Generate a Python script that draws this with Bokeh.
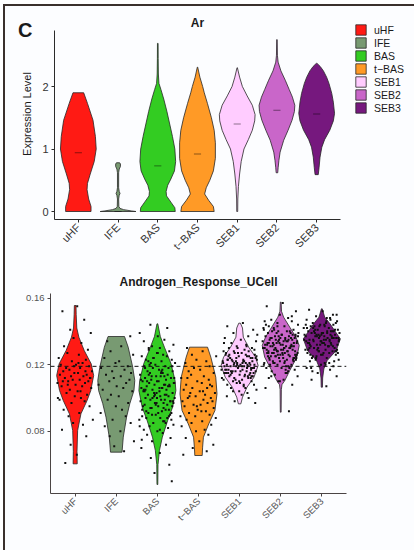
import math
from bokeh.plotting import figure
from bokeh.models import Range1d, FixedTicker, Span, Legend, LegendItem, Div, Label
from bokeh.layouts import column
from bokeh.embed import file_html
from bokeh.resources import INLINE

FONT = "Liberation Sans"
CATS = ["uHF", "IFE", "BAS", "t\u2212BAS", "SEB1", "SEB2", "SEB3"]
COLORS = ["#ff1a14", "#789a72", "#33cc22", "#ff9a26", "#ffccff", "#c966c9", "#76187e"]

# ---- Ar expression violin profiles (level, half-width) ----
AR_UHF_Y = [0.0, 0.08, 0.2, 0.35, 0.45, 0.6, 0.8, 1.0, 1.2, 1.46, 1.73, 1.9]
AR_UHF_W = [0.32, 0.32, 0.26, 0.22, 0.23, 0.30, 0.40, 0.45, 0.43, 0.37, 0.23, 0.135]
AR_IFE_Y = [0.0, 0.01, 0.03, 0.05, 0.08, 0.2, 0.26, 0.29, 0.32, 0.38, 0.62, 0.68, 0.72, 0.76, 0.78]
AR_IFE_W = [0.45, 0.33, 0.14, 0.05, 0.02, 0.015, 0.03, 0.05, 0.03, 0.015, 0.015, 0.03, 0.06, 0.06, 0.04]
AR_BAS_Y = [0.0, 0.06, 0.15, 0.25, 0.32, 0.42, 0.52, 0.65, 0.8, 1.0, 1.2, 1.4, 1.6, 1.8, 1.95, 2.05, 2.2, 2.45, 2.69]
AR_BAS_W = [0.44, 0.43, 0.33, 0.22, 0.21, 0.25, 0.33, 0.42, 0.45, 0.43, 0.37, 0.30, 0.23, 0.15, 0.08, 0.03, 0.015, 0.01, 0.008]
AR_TBAS_Y = [0.0, 0.08, 0.18, 0.28, 0.38, 0.5, 0.65, 0.85, 1.1, 1.3, 1.5, 1.73, 1.9, 2.0, 2.15, 2.31]
AR_TBAS_W = [0.42, 0.40, 0.28, 0.18, 0.22, 0.31, 0.40, 0.45, 0.45, 0.42, 0.35, 0.25, 0.17, 0.13, 0.06, 0.005]
AR_SEB1_Y = [0.0, 0.2, 0.4, 0.6, 0.8, 1.0, 1.15, 1.3, 1.45, 1.55, 1.7, 1.85, 2.0, 2.15, 2.3]
AR_SEB1_W = [0.012, 0.015, 0.03, 0.06, 0.10, 0.17, 0.28, 0.38, 0.44, 0.45, 0.38, 0.25, 0.13, 0.06, 0.005]
AR_SEB2_Y = [0.62, 0.7, 0.82, 0.95, 1.14, 1.3, 1.46, 1.6, 1.7, 1.83, 1.95, 2.1, 2.25, 2.39, 2.5, 2.75]
AR_SEB2_W = [0.02, 0.03, 0.05, 0.08, 0.17, 0.28, 0.38, 0.44, 0.45, 0.39, 0.31, 0.21, 0.10, 0.03, 0.012, 0.006]
AR_SEB3_Y = [0.59, 0.7, 0.87, 1.03, 1.15, 1.3, 1.45, 1.57, 1.75, 1.89, 2.05, 2.15, 2.25, 2.32, 2.37]
AR_SEB3_W = [0.04, 0.06, 0.085, 0.13, 0.2, 0.33, 0.42, 0.45, 0.42, 0.38, 0.31, 0.25, 0.17, 0.09, 0.01]
AR_MEDIAN = [0.94, 0.0, 0.73, 0.92, 1.40, 1.62, 1.56]
AR_AXIS_Y = (-0.128, 2.896)

# ---- Androgen_Response_UCell violin profiles ----
UC_UHF_Y = [0.0605, 0.068, 0.0805, 0.0905, 0.0985, 0.1045, 0.1135, 0.1205, 0.1285, 0.1365, 0.142, 0.15, 0.1555]
UC_UHF_W = [0.05, 0.045, 0.06, 0.14, 0.29, 0.38, 0.45, 0.39, 0.22, 0.09, 0.04, 0.025, 0.02]
UC_IFE_Y = [0.0675, 0.0765, 0.0885, 0.0967, 0.1045, 0.1105, 0.1185, 0.1305, 0.1369]
UC_IFE_W = [0.14, 0.17, 0.25, 0.33, 0.43, 0.45, 0.40, 0.29, 0.20]
UC_BAS_Y = [0.0481, 0.06, 0.0685, 0.0765, 0.0865, 0.0945, 0.1045, 0.1105, 0.1207, 0.1305, 0.137, 0.1445]
UC_BAS_W = [0.01, 0.015, 0.05, 0.12, 0.25, 0.37, 0.45, 0.43, 0.33, 0.17, 0.07, 0.01]
UC_TBAS_Y = [0.0655, 0.0705, 0.0765, 0.0845, 0.0925, 0.1025, 0.1125, 0.1245, 0.1305]
UC_TBAS_W = [0.09, 0.10, 0.12, 0.25, 0.40, 0.45, 0.42, 0.30, 0.22]
UC_SEB1_Y = [0.0965, 0.1005, 0.1065, 0.1125, 0.1195, 0.1245, 0.1305, 0.1365, 0.142, 0.1449]
UC_SEB1_W = [0.03, 0.07, 0.18, 0.35, 0.45, 0.39, 0.22, 0.09, 0.07, 0.02]
UC_SEB2_Y = [0.0915, 0.105, 0.108, 0.1105, 0.1165, 0.1245, 0.1315, 0.1365, 0.1425, 0.1485, 0.152, 0.1575]
UC_SEB2_W = [0.01, 0.015, 0.03, 0.10, 0.22, 0.39, 0.45, 0.37, 0.22, 0.07, 0.02, 0.01]
UC_SEB3_Y = [0.1065, 0.112, 0.1175, 0.1225, 0.1285, 0.1355, 0.1405, 0.1445, 0.1485, 0.1535]
UC_SEB3_W = [0.015, 0.02, 0.05, 0.13, 0.35, 0.45, 0.31, 0.20, 0.07, 0.01]
UC_MEAN_LINE = 0.119

# ---- UCell per-cell scores (jittered points) ----
PT_UHF = [0.155, 0.152, 0.147, 0.141, 0.139, 0.136, 0.133, 0.131, 0.129, 0.127, 0.126, 0.124, 0.123, 0.122,
          0.121, 0.120, 0.120, 0.119, 0.118, 0.118, 0.117, 0.116, 0.116, 0.115, 0.115, 0.114, 0.114, 0.113,
          0.113, 0.112, 0.112, 0.111, 0.111, 0.110, 0.110, 0.109, 0.109, 0.108, 0.107, 0.107, 0.106, 0.105,
          0.104, 0.103, 0.102, 0.101, 0.100, 0.099, 0.098, 0.097, 0.095, 0.093, 0.091, 0.089, 0.087, 0.085,
          0.084, 0.081, 0.077, 0.072, 0.066, 0.061, 0.112, 0.108, 0.104, 0.100, 0.116, 0.119, 0.121, 0.110]
PT_IFE = [0.137, 0.134, 0.131, 0.128, 0.126, 0.124, 0.122, 0.121, 0.119, 0.118, 0.117, 0.116, 0.115, 0.114,
          0.113, 0.112, 0.111, 0.110, 0.109, 0.108, 0.107, 0.106, 0.105, 0.104, 0.102, 0.101, 0.099, 0.097,
          0.095, 0.093, 0.091, 0.089, 0.087, 0.085, 0.083, 0.080, 0.077, 0.074, 0.071, 0.068]
PT_BAS = [0.144, 0.142, 0.139, 0.137, 0.135, 0.134, 0.132, 0.131, 0.130, 0.129, 0.128, 0.127, 0.126, 0.125,
          0.125, 0.124, 0.123, 0.123, 0.122, 0.121, 0.121, 0.120, 0.119, 0.119, 0.118, 0.118, 0.117, 0.116,
          0.116, 0.115, 0.115, 0.114, 0.114, 0.113, 0.113, 0.112, 0.112, 0.111, 0.111, 0.110, 0.110, 0.109,
          0.109, 0.108, 0.108, 0.107, 0.107, 0.106, 0.106, 0.105, 0.105, 0.104, 0.104, 0.103, 0.103, 0.102,
          0.102, 0.101, 0.101, 0.100, 0.100, 0.099, 0.099, 0.098, 0.098, 0.097, 0.097, 0.096, 0.096, 0.095,
          0.095, 0.094, 0.093, 0.093, 0.092, 0.091, 0.091, 0.090, 0.089, 0.088, 0.088, 0.087, 0.086, 0.085,
          0.084, 0.083, 0.082, 0.081, 0.080, 0.079, 0.078, 0.076, 0.074, 0.072, 0.070, 0.067, 0.064, 0.060,
          0.055, 0.050,
          0.118, 0.116, 0.114, 0.112, 0.110, 0.108, 0.106, 0.104, 0.102, 0.100, 0.098, 0.096, 0.094, 0.092,
          0.090, 0.120, 0.115, 0.111, 0.107, 0.103, 0.099, 0.095, 0.091, 0.087, 0.122, 0.117, 0.113, 0.109,
          0.105, 0.101, 0.097, 0.093, 0.089, 0.085, 0.124, 0.119, 0.110, 0.106, 0.102, 0.098, 0.094, 0.088,
          0.083, 0.127, 0.113, 0.105, 0.097, 0.090, 0.081, 0.130, 0.108, 0.100, 0.086, 0.075]
PT_TBAS = [0.130, 0.128, 0.126, 0.125, 0.123, 0.122, 0.121, 0.119, 0.118, 0.117, 0.116, 0.115, 0.114, 0.113,
           0.112, 0.111, 0.110, 0.109, 0.108, 0.107, 0.106, 0.106, 0.105, 0.104, 0.103, 0.103, 0.102, 0.101,
           0.100, 0.100, 0.099, 0.098, 0.097, 0.096, 0.096, 0.095, 0.094, 0.093, 0.092, 0.091, 0.090, 0.089,
           0.088, 0.087, 0.086, 0.085, 0.084, 0.083, 0.081, 0.080, 0.078, 0.076, 0.074, 0.072, 0.070, 0.068,
           0.066, 0.104, 0.101, 0.098, 0.095, 0.108, 0.112, 0.092, 0.089]
PT_SEB1 = [0.145, 0.143, 0.141, 0.139, 0.137, 0.136, 0.135, 0.134, 0.133, 0.132, 0.131, 0.130, 0.130, 0.129,
           0.128, 0.128, 0.127, 0.127, 0.126, 0.126, 0.125, 0.125, 0.124, 0.124, 0.124, 0.123, 0.123, 0.123,
           0.122, 0.122, 0.122, 0.121, 0.121, 0.121, 0.120, 0.120, 0.120, 0.120, 0.119, 0.119, 0.119, 0.119,
           0.118, 0.118, 0.118, 0.117, 0.117, 0.117, 0.116, 0.116, 0.116, 0.115, 0.115, 0.115, 0.114, 0.114,
           0.113, 0.113, 0.112, 0.112, 0.111, 0.111, 0.110, 0.110, 0.109, 0.108, 0.108, 0.107, 0.106, 0.105,
           0.104, 0.103, 0.102, 0.101, 0.100, 0.098, 0.097,
           0.127, 0.126, 0.125, 0.124, 0.123, 0.122, 0.121, 0.120, 0.119, 0.118, 0.117, 0.116, 0.115, 0.114,
           0.113, 0.128, 0.125, 0.123, 0.121, 0.119, 0.117, 0.115, 0.113, 0.111, 0.129, 0.126, 0.122, 0.120,
           0.118, 0.116, 0.114, 0.112, 0.109, 0.131, 0.127, 0.124, 0.121, 0.119, 0.116, 0.113, 0.110, 0.106,
           0.133, 0.125, 0.122, 0.118, 0.115, 0.108, 0.104, 0.138, 0.130, 0.120, 0.117, 0.112]
PT_SEB2 = [0.157, 0.155, 0.152, 0.150, 0.148, 0.147, 0.146, 0.145, 0.144, 0.143, 0.143, 0.142, 0.141, 0.141,
           0.140, 0.140, 0.139, 0.139, 0.138, 0.138, 0.137, 0.137, 0.137, 0.136, 0.136, 0.136, 0.135, 0.135,
           0.135, 0.134, 0.134, 0.134, 0.133, 0.133, 0.133, 0.132, 0.132, 0.132, 0.131, 0.131, 0.131, 0.130,
           0.130, 0.130, 0.129, 0.129, 0.129, 0.128, 0.128, 0.128, 0.127, 0.127, 0.127, 0.126, 0.126, 0.126,
           0.125, 0.125, 0.125, 0.124, 0.124, 0.123, 0.123, 0.122, 0.122, 0.121, 0.121, 0.120, 0.120, 0.119,
           0.118, 0.118, 0.117, 0.116, 0.115, 0.114, 0.113, 0.112, 0.111, 0.110, 0.108, 0.106, 0.092,
           0.139, 0.137, 0.136, 0.135, 0.134, 0.133, 0.132, 0.131, 0.130, 0.129, 0.128, 0.127, 0.126, 0.125,
           0.124, 0.140, 0.138, 0.136, 0.134, 0.132, 0.130, 0.128, 0.126, 0.124, 0.122, 0.141, 0.139, 0.137,
           0.135, 0.133, 0.131, 0.129, 0.127, 0.125, 0.123, 0.121, 0.119, 0.142, 0.136, 0.133, 0.130, 0.127,
           0.124, 0.121, 0.118, 0.144, 0.138, 0.134, 0.131, 0.128, 0.126, 0.123, 0.120, 0.117, 0.146, 0.140,
           0.135, 0.132, 0.129, 0.125, 0.122, 0.116, 0.113, 0.149, 0.143, 0.137, 0.133, 0.130, 0.127, 0.124,
           0.120, 0.115, 0.110]
PT_SEB3 = [0.153, 0.152, 0.150, 0.149, 0.148, 0.147, 0.146, 0.145, 0.145, 0.144, 0.144, 0.143, 0.143, 0.142,
           0.142, 0.141, 0.141, 0.140, 0.140, 0.140, 0.139, 0.139, 0.139, 0.138, 0.138, 0.138, 0.137, 0.137,
           0.137, 0.136, 0.136, 0.136, 0.135, 0.135, 0.135, 0.134, 0.134, 0.134, 0.133, 0.133, 0.133, 0.132,
           0.132, 0.132, 0.131, 0.131, 0.130, 0.130, 0.129, 0.129, 0.128, 0.128, 0.127, 0.127, 0.126, 0.126,
           0.125, 0.124, 0.124, 0.123, 0.122, 0.121, 0.120, 0.119, 0.118, 0.117, 0.115, 0.113, 0.111, 0.107,
           0.143, 0.141, 0.139, 0.137, 0.135, 0.133, 0.131, 0.129, 0.127, 0.125, 0.144, 0.142, 0.140, 0.138,
           0.136, 0.134, 0.132, 0.130, 0.128, 0.126, 0.145, 0.141, 0.139, 0.137, 0.135, 0.133, 0.131, 0.129,
           0.127, 0.124, 0.146, 0.143, 0.140, 0.138, 0.136, 0.134, 0.132, 0.130, 0.128, 0.123, 0.147, 0.142,
           0.139, 0.136, 0.134, 0.131, 0.128, 0.122, 0.118, 0.148, 0.144, 0.140, 0.137, 0.135, 0.133, 0.129,
           0.126, 0.121, 0.116, 0.150, 0.138, 0.135, 0.132, 0.120]
# horizontal jitter offsets (category units)
JITTER = [0.05, -0.31, 0.22, -0.12, 0.38, -0.04, 0.15, -0.27, 0.31, -0.19, 0.09, -0.40, 0.26, -0.08, 0.18,
          -0.35, 0.02, 0.34, -0.22, 0.12, -0.14, 0.41, -0.29, 0.07, -0.02, 0.28, -0.37, 0.20, -0.10, 0.36,
          -0.25, 0.11, -0.06, 0.32, -0.17, 0.24, -0.43, 0.01, 0.17, -0.33, 0.39, -0.13, 0.06, -0.21, 0.29,
          -0.01, 0.14, -0.38, 0.23, -0.09, 0.35, -0.28, 0.10, -0.16, 0.43, -0.05, 0.19, -0.32, 0.27, -0.11,
          0.04, -0.24, 0.37, -0.18, 0.13, -0.42, 0.25, -0.03, 0.08, -0.30, 0.33, -0.15, 0.21, -0.36, 0.03,
          0.40, -0.20, 0.16, -0.07, 0.30, -0.26, 0.12, -0.39, 0.22, -0.12, 0.05, -0.34, 0.37, -0.02, 0.18,
          -0.23, 0.27, -0.08, 0.42, -0.29, 0.09, -0.17, 0.31, -0.41, 0.15, -0.06, 0.24, -0.31, 0.02, 0.36,
          -0.14, 0.20, -0.37, 0.11, -0.22, 0.34, -0.04, 0.28, -0.27, 0.07, -0.44, 0.17, -0.10, 0.39, -0.19,
          0.26, -0.33, 0.00, 0.13, -0.25, 0.32, -0.13, 0.21, -0.39, 0.06, -0.16, 0.29, -0.07, 0.35, -0.30,
          0.10, -0.21, 0.41, -0.01, 0.19]

AR_PROFILES = [(AR_UHF_Y, AR_UHF_W), (AR_IFE_Y, AR_IFE_W), (AR_BAS_Y, AR_BAS_W), (AR_TBAS_Y, AR_TBAS_W),
               (AR_SEB1_Y, AR_SEB1_W), (AR_SEB2_Y, AR_SEB2_W), (AR_SEB3_Y, AR_SEB3_W)]
UC_PROFILES = [(UC_UHF_Y, UC_UHF_W), (UC_IFE_Y, UC_IFE_W), (UC_BAS_Y, UC_BAS_W), (UC_TBAS_Y, UC_TBAS_W),
               (UC_SEB1_Y, UC_SEB1_W), (UC_SEB2_Y, UC_SEB2_W), (UC_SEB3_Y, UC_SEB3_W)]
UC_POINTS = [PT_UHF, PT_IFE, PT_BAS, PT_TBAS, PT_SEB1, PT_SEB2, PT_SEB3]

POS = list(range(1, len(CATS) + 1))
OUTLINE = "#262626"
AXIS_COL = "#2a2a2a"
BORDER = "#3a302c"
BG = "#fcfdff"


def violin(p, c, ys, ws, color):
    xs = [c - w for w in ws] + [c + w for w in reversed(ws)]
    yy = list(ys) + list(reversed(ys))
    return p.patch(xs, yy, fill_color=color, line_color=OUTLINE, line_width=0.8)


def style(p, tick_size, tick_color, line_color):
    p.grid.visible = False
    p.outline_line_color = None
    p.background_fill_color = BG
    p.border_fill_color = BG
    p.title.align = "center"
    p.title.text_font = FONT
    p.title.text_font_size = "12px"
    p.title.text_font_style = "bold"
    p.title.text_color = "#1a1a1a"
    for ax in (p.xaxis[0], p.yaxis[0]):
        ax.axis_line_color = line_color
        ax.axis_line_width = 1
        ax.major_tick_line_color = line_color
        ax.major_tick_out = 3
        ax.major_tick_in = 0
        ax.minor_tick_line_color = None
        ax.major_label_text_font = FONT
        ax.major_label_text_font_size = tick_size
        ax.major_label_text_color = tick_color
        ax.major_label_standoff = 3
    p.xaxis.ticker = FixedTicker(ticks=POS)
    p.xaxis.major_label_overrides = {i: c for i, c in zip(POS, CATS)}
    p.xaxis.major_label_orientation = math.pi / 4


# ---------------- top panel ----------------
# frame is widened to the right and upward so the legend and title sit inside it;
# the axes are bounded to the data area.
p1 = figure(width=409, height=256, x_range=Range1d(0.4, 9.463), y_range=Range1d(-0.128, 3.248),
            output_backend="svg", toolbar_location=None, frame_align=False,
            min_border_left=49, min_border_right=0, min_border_top=2, min_border_bottom=43)
style(p1, "11px", "#333333", AXIS_COL)
p1.xaxis.bounds = (0.4, 7.6)
p1.yaxis.bounds = AR_AXIS_Y
p1.yaxis.ticker = FixedTicker(ticks=[0, 1, 2])
p1.yaxis.axis_label = "Expression Level"
p1.yaxis.axis_label_text_font = FONT
p1.yaxis.axis_label_text_font_size = "11px"
p1.yaxis.axis_label_text_font_style = "normal"
p1.yaxis.axis_label_text_color = "#1a1a1a"
p1.yaxis.axis_label_standoff = 6

items = []
for c, (ys, ws), col, name, med in zip(POS, AR_PROFILES, COLORS, CATS, AR_MEDIAN):
    r = violin(p1, c, ys, ws, col)
    p1.segment(x0=[c - 0.09], x1=[c + 0.09], y0=[med], y1=[med], line_color="black", line_alpha=0.45, line_width=1)
    items.append(LegendItem(label=name, renderers=[r]))

leg = Legend(items=items, location=(300, 105), orientation="vertical",
             glyph_width=13, glyph_height=13, label_height=13, spacing=0, padding=0, margin=0,
             label_standoff=7, label_text_font=FONT, label_text_font_size="10.5px",
             label_text_color="#1a1a1a", border_line_alpha=0, background_fill_alpha=0)
p1.add_layout(leg)

p1.add_layout(Label(x=4.0, y=3.02, text="Ar", text_align="center", text_baseline="alphabetic",
                    text_font=FONT, text_font_size="12px", text_font_style="bold", text_color="#1a1a1a"))

# ---------------- bottom panel ----------------
p2 = figure(width=409, height=288, x_range=Range1d(0.4, 7.6), y_range=Range1d(0.0427, 0.1627),
            output_backend="svg", toolbar_location=None, title="Androgen_Response_UCell", frame_align=False,
            min_border_left=45, min_border_right=68, min_border_top=31, min_border_bottom=57)
style(p2, "9.5px", "#555555", "#4a4444")
p2.yaxis.ticker = FixedTicker(ticks=[0.08, 0.12, 0.16])
p2.yaxis.major_label_overrides = {0.08: "0.08", 0.12: "0.12", 0.16: "0.16"}

for k, (c, (ys, ws), col, pts) in enumerate(zip(POS, UC_PROFILES, COLORS, UC_POINTS)):
    violin(p2, c, ys, ws, col)
    n = len(JITTER)
    xs = [c + JITTER[(i + 17 * k) % n] for i in range(len(pts))]
    p2.scatter(xs, pts, marker="square", size=2.0, fill_color="#111111", line_color=None)

p2.add_layout(Span(location=UC_MEAN_LINE, dimension="width", line_color="#111111",
                   line_dash="4 3", line_width=1))

panel_letter = Div(text="C", styles={"position": "absolute", "left": "8px", "top": "9px",
                                     "font-family": FONT, "font-size": "20px", "font-weight": "bold",
                                     "color": "#1a1a1a", "z-index": "10", "line-height": "1"})

layout = column(p1, p2, panel_letter, spacing=0,
                styles={"border-left": "2px solid " + BORDER, "border-top": "2px solid " + BORDER,
                        "margin-left": "3px", "margin-top": "4px", "background-color": BG})

open("out.html", "w").write(file_html(layout, INLINE))
